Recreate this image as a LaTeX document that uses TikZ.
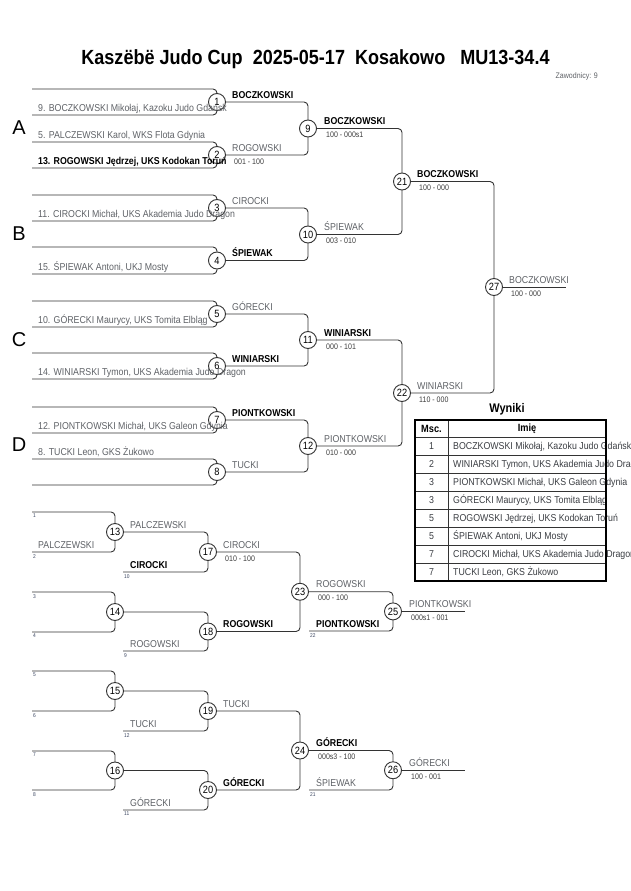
\documentclass[tikz,border=0pt]{standalone}
\usepackage{fontspec}
\setmainfont{Liberation Sans}
\newfontfamily\cf[FakeStretch=0.88]{Liberation Sans}
\usetikzlibrary{backgrounds}
\definecolor{ng}{HTML}{5E6166}
\definecolor{sc}{HTML}{3C3C3C}
\definecolor{ln}{HTML}{333333}
\definecolor{tn}{HTML}{3A4560}
\definecolor{tb}{HTML}{3A3D42}
\begin{document}
\begin{tikzpicture}[x=1pt,y=-1pt,
  circ/.style={circle,draw=ln,fill=white,line width=0.9pt,minimum size=17pt,inner sep=0pt,font=\cf\fontsize{10.5}{12}\selectfont},
  conn/.style={draw=ln,line width=0.9pt,rounded corners=4pt},
  nm/.style={anchor=base west,inner sep=0pt,text=ng,font=\cf\fontsize{10}{12}\selectfont},
  nmb/.style={anchor=base west,inner sep=0pt,text=black,font=\cf\bfseries\fontsize{10}{12}\selectfont},
  sco/.style={anchor=base west,inner sep=0pt,text=sc,font=\cf\fontsize{8}{10}\selectfont},
  tiny/.style={anchor=north west,inner sep=0pt,text=tn,font=\cf\fontsize{5.5}{6}\selectfont},
  grp/.style={inner sep=0pt,text=black,font=\fontsize{20}{22}\selectfont},
  tcell/.style={inner sep=0pt,text=tb,font=\cf\fontsize{10}{12}\selectfont},
  thead/.style={inner sep=0pt,text=black,font=\cf\bfseries\fontsize{10.5}{12}\selectfont},
]
\useasboundingbox (0,0) rectangle (630,891);

% title
\node[anchor=base,inner sep=0pt,font=\cf\bfseries\fontsize{20.5}{24}\selectfont] (title) at (315.5,65) {Kaszëbë Judo Cup~~2025-05-17~~Kosakowo~~~MU13-34.4};
\node[anchor=base east,inner sep=0pt,text=ng,font=\cf\fontsize{8}{10}\selectfont] (zaw) at (598,78.5) {Zawodnicy: 9};

% group letters
\node[grp] (gA) at (19,128) {A};
\node[grp] (gB) at (19,234) {B};
\node[grp] (gC) at (19,340) {C};
\node[grp] (gD) at (19,445) {D};

% circles main
\node[circ] (c1) at (217,102) {1};
\node[circ] (c2) at (217,155) {2};
\node[circ] (c3) at (217,208) {3};
\node[circ] (c4) at (217,260.5) {4};
\node[circ] (c5) at (217,314) {5};
\node[circ] (c6) at (217,366) {6};
\node[circ] (c7) at (217,420) {7};
\node[circ] (c8) at (217,472) {8};
\node[circ] (c9) at (308,128.5) {9};
\node[circ] (c10) at (308,234.5) {10};
\node[circ] (c11) at (308,340) {11};
\node[circ] (c12) at (308,446) {12};
\node[circ] (c21) at (402,181.5) {21};
\node[circ] (c22) at (402,393) {22};
\node[circ] (c27) at (494,287) {27};
\coordinate (e27) at (566,287);

% circles repechage
\node[circ] (c13) at (115,532) {13};
\node[circ] (c14) at (115,612) {14};
\node[circ] (c15) at (115,691) {15};
\node[circ] (c16) at (115,770.5) {16};
\node[circ] (c17) at (208,552) {17};
\node[circ] (c18) at (208,631.5) {18};
\node[circ] (c19) at (208,711) {19};
\node[circ] (c20) at (208,790) {20};
\node[circ] (c23) at (300,591.75) {23};
\node[circ] (c24) at (300,750.5) {24};
\node[circ] (c25) at (393,611.4) {25};
\node[circ] (c26) at (393,770.25) {26};
\coordinate (e25) at (465,611.4);
\coordinate (e26) at (465,770.25);

\begin{scope}[on background layer]
% first round main
\draw[conn] (32,89) -| (c1.center) |- (32,115);
\draw[conn] (32,142) -| (c2.center) |- (32,168);
\draw[conn] (32,195) -| (c3.center) |- (32,221);
\draw[conn] (32,247) -| (c4.center) |- (32,274);
\draw[conn] (32,301) -| (c5.center) |- (32,327);
\draw[conn] (32,353) -| (c6.center) |- (32,379);
\draw[conn] (32,407) -| (c7.center) |- (32,433);
\draw[conn] (32,459) -| (c8.center) |- (32,485);
% later rounds
\draw[conn] (c1.center) -| (c9.center) |- (c2.center);
\draw[conn] (c3.center) -| (c10.center) |- (c4.center);
\draw[conn] (c5.center) -| (c11.center) |- (c6.center);
\draw[conn] (c7.center) -| (c12.center) |- (c8.center);
\draw[conn] (c9.center) -| (c21.center) |- (c10.center);
\draw[conn] (c11.center) -| (c22.center) |- (c12.center);
\draw[conn] (c21.center) -| (c27.center) |- (c22.center);
\draw[conn] (c27.center) -- (e27);
% repechage
\draw[conn] (32,512) -| (c13.center) |- (32,552);
\draw[conn] (32,592) -| (c14.center) |- (32,632);
\draw[conn] (32,671) -| (c15.center) |- (32,711);
\draw[conn] (32,751) -| (c16.center) |- (32,790);
\draw[conn] (c13.center) -| (c17.center) |- (123,572);
\draw[conn] (c14.center) -| (c18.center) |- (123,651);
\draw[conn] (c15.center) -| (c19.center) |- (123,731);
\draw[conn] (c16.center) -| (c20.center) |- (123,810);
\draw[conn] (c17.center) -| (c23.center) |- (c18.center);
\draw[conn] (c19.center) -| (c24.center) |- (c20.center);
\draw[conn] (c23.center) -| (c25.center) |- (309,631);
\draw[conn] (c24.center) -| (c26.center) |- (309,790);
\draw[conn] (c25.center) -- (e25);
\draw[conn] (c26.center) -- (e26);
\end{scope}

% competitor names
\node[nm]  (p1) at (38,111) {9. BOCZKOWSKI Mikołaj, Kazoku Judo Gdańsk};
\node[nm]  (p2) at (38,138) {5. PALCZEWSKI Karol, WKS Flota Gdynia};
\node[nmb] (p3) at (38,164) {13. ROGOWSKI Jędrzej, UKS Kodokan Toruń};
\node[nm]  (p4) at (38,217) {11. CIROCKI Michał, UKS Akademia Judo Dragon};
\node[nm]  (p5) at (38,270) {15. ŚPIEWAK Antoni, UKJ Mosty};
\node[nm]  (p6) at (38,323) {10. GÓRECKI Maurycy, UKS Tomita Elbląg};
\node[nm]  (p7) at (38,375) {14. WINIARSKI Tymon, UKS Akademia Judo Dragon};
\node[nm]  (p8) at (38,429) {12. PIONTKOWSKI Michał, UKS Galeon Gdynia};
\node[nm]  (p9) at (38,455) {8. TUCKI Leon, GKS Żukowo};

% winners main
\node[nmb] (w1) at (232,98) {BOCZKOWSKI};
\node[nm]  (w2) at (232,151) {ROGOWSKI};
\node[sco] (s2) at (234,164) {001 - 100};
\node[nm]  (w3) at (232,204) {CIROCKI};
\node[nmb] (w4) at (232,256.5) {ŚPIEWAK};
\node[nm]  (w5) at (232,310) {GÓRECKI};
\node[nmb] (w6) at (232,362) {WINIARSKI};
\node[nmb] (w7) at (232,416) {PIONTKOWSKI};
\node[nm]  (w8) at (232,468) {TUCKI};
\node[nmb] (w9) at (324,124.5) {BOCZKOWSKI};
\node[sco] (s9) at (326,137.5) {100 - 000s1};
\node[nm]  (w10) at (324,230.5) {ŚPIEWAK};
\node[sco] (s10) at (326,243.5) {003 - 010};
\node[nmb] (w11) at (324,336) {WINIARSKI};
\node[sco] (s11) at (326,349) {000 - 101};
\node[nm]  (w12) at (324,442) {PIONTKOWSKI};
\node[sco] (s12) at (326,455) {010 - 000};
\node[nmb] (w21) at (417,177.5) {BOCZKOWSKI};
\node[sco] (s21) at (419,190.5) {100 - 000};
\node[nm]  (w22) at (417,389) {WINIARSKI};
\node[sco] (s22) at (419,402) {110 - 000};
\node[nm]  (w27) at (509,283) {BOCZKOWSKI};
\node[sco] (s27) at (511,296) {100 - 000};

% repechage texts
\node[tiny] (t1) at (33,514) {1};
\node[tiny] (t2) at (33,554) {2};
\node[tiny] (t3) at (33,594) {3};
\node[tiny] (t4) at (33,634) {4};
\node[tiny] (t5) at (33,673) {5};
\node[tiny] (t6) at (33,713) {6};
\node[tiny] (t7) at (33,753) {7};
\node[tiny] (t8) at (33,792) {8};
\node[tiny] (t10) at (124,574) {10};
\node[tiny] (t9) at (124,653) {9};
\node[tiny] (t12) at (124,733) {12};
\node[tiny] (t11) at (124,812) {11};
\node[tiny] (t22) at (310,633) {22};
\node[tiny] (t21) at (310,792) {21};

\node[nm]  (r2) at (38,548) {PALCZEWSKI};
\node[nm]  (w13) at (130,528) {PALCZEWSKI};
\node[nmb] (r10) at (130,568) {CIROCKI};
\node[nm]  (w17) at (223,548) {CIROCKI};
\node[sco] (s17) at (225,561) {010 - 100};
\node[nm]  (r9) at (130,647) {ROGOWSKI};
\node[nmb] (w18) at (223,627.5) {ROGOWSKI};
\node[nm]  (w23) at (316,587.75) {ROGOWSKI};
\node[sco] (s23) at (318,600.75) {000 - 100};
\node[nmb] (r22) at (316,627) {PIONTKOWSKI};
\node[nm]  (w25) at (409,607.4) {PIONTKOWSKI};
\node[sco] (s25) at (411,620.4) {000s1 - 001};
\node[nm]  (r12) at (130,727) {TUCKI};
\node[nm]  (w19) at (223,707) {TUCKI};
\node[nm]  (r11) at (130,806) {GÓRECKI};
\node[nmb] (w20) at (223,786) {GÓRECKI};
\node[nmb] (w24) at (316,746.5) {GÓRECKI};
\node[sco] (s24) at (318,759.5) {000s3 - 100};
\node[nm]  (r21) at (316,786) {ŚPIEWAK};
\node[nm]  (w26) at (409,766.25) {GÓRECKI};
\node[sco] (s26) at (411,779.25) {100 - 001};

% results table
\node[anchor=base,inner sep=0pt,font=\cf\bfseries\fontsize{12.5}{14}\selectfont] (wyn) at (507,412.5) {Wyniki};
\node[thead] (hm) at (431.5,428.5) {Msc.};
\node[thead] (hi) at (527,428.5) {Imię};
\foreach \i/\m/\n in {1/1/{BOCZKOWSKI Mikołaj, Kazoku Judo Gdańsk},
                      2/2/{WINIARSKI Tymon, UKS Akademia Judo Dragon},
                      3/3/{PIONTKOWSKI Michał, UKS Galeon Gdynia},
                      4/3/{GÓRECKI Maurycy, UKS Tomita Elbląg},
                      5/5/{ROGOWSKI Jędrzej, UKS Kodokan Toruń},
                      6/5/{ŚPIEWAK Antoni, UKJ Mosty},
                      7/7/{CIROCKI Michał, UKS Akademia Judo Dragon},
                      8/7/{TUCKI Leon, GKS Żukowo}}{
  \node[tcell,anchor=base] (rm\i) at (431.5,{428+18*\i+3.6}) {\m};
  \node[tcell,anchor=base west] (rn\i) at (453,{428+18*\i+3.6}) {\n};
}
\foreach \y in {455,473,491,509,527,545,563}{
  \draw[line width=1pt,ln] (415,\y) -- (606,\y);
}
\draw[line width=1pt,ln] (415,437) -- (606,437);
\draw[line width=1pt,ln] (448,420) -- (448,581);
\draw[line width=2pt,black] (415,420) rectangle (606,581);
\end{tikzpicture}
\end{document}
